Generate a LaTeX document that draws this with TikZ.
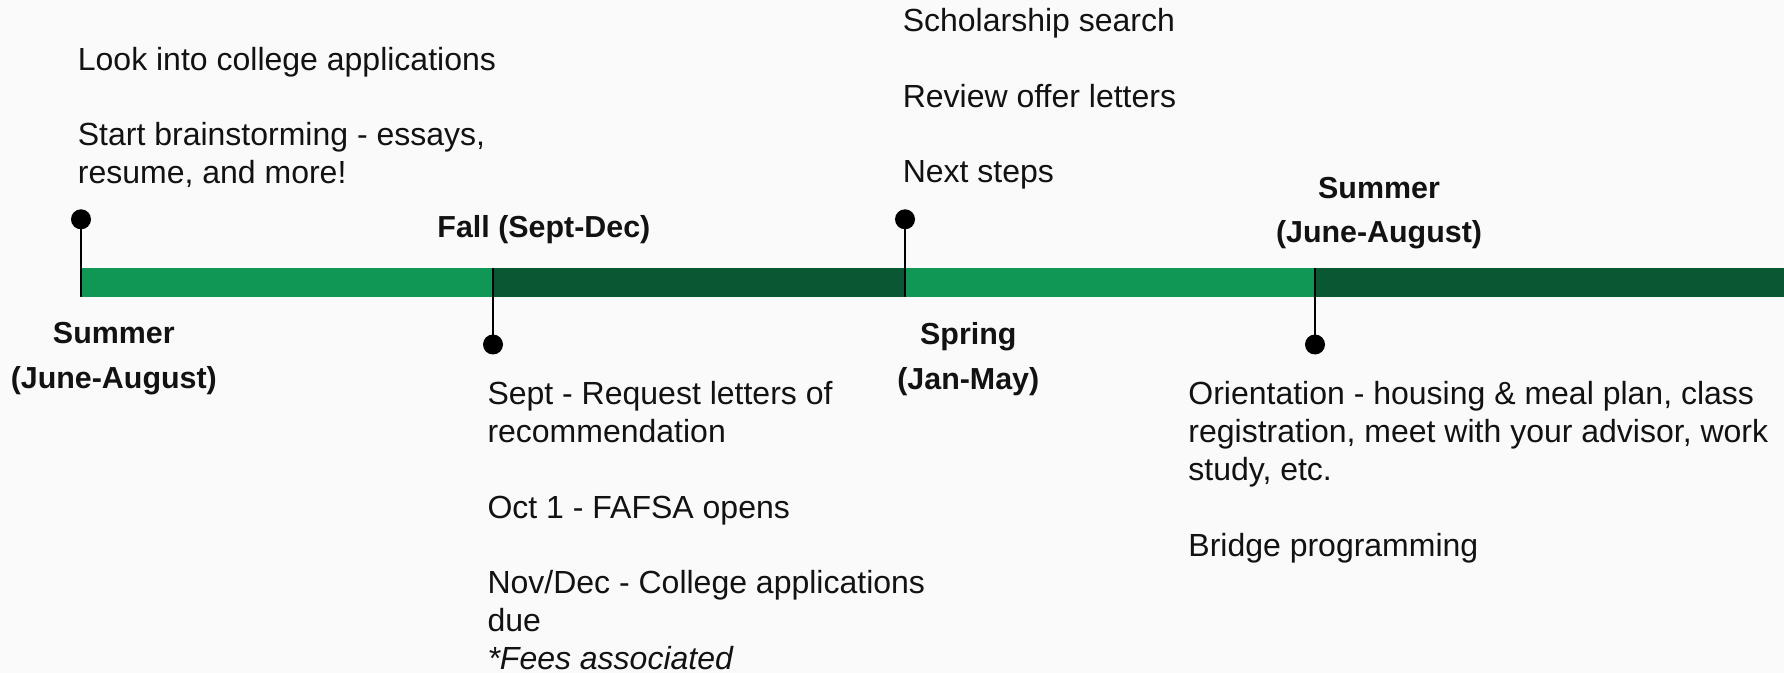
\documentclass[tikz,border=0pt]{standalone}
\usepackage{fontspec}
\setmainfont{Liberation Sans}
\definecolor{barlight}{RGB}{16,150,85}
\definecolor{bardark}{RGB}{10,87,52}
\definecolor{bgpaper}{RGB}{250,250,250}
\definecolor{inkblack}{RGB}{18,18,18}

\tikzset{every picture/.style={line width=0.75pt},
  season/.style={anchor=north,inner sep=0pt,align=center,text=inkblack,font=\fontsize{22.8}{33.3}\selectfont\bfseries},
  notes/.style={anchor=north west,inner sep=0pt,align=left,text=inkblack,font=\fontsize{24}{28.4}\selectfont},
  pindot/.style={circle,fill=black,inner sep=0pt,minimum size=15pt},
  stem/.style={line width=1.5pt}}

\begin{document}
\begin{tikzpicture}[x=0.75pt,y=0.75pt,yscale=-1,xscale=1]
%set diagram size to 1784 x 673
\useasboundingbox[fill=bgpaper] (0,0) rectangle (1784,673);

%Shape: Rectangle [id:bar1]
\fill[barlight] (80,268) rectangle (493,297);
%Shape: Rectangle [id:bar2]
\fill[bardark] (493,268) rectangle (905,297);
%Shape: Rectangle [id:bar3]
\fill[barlight] (905,268) rectangle (1315,297);
%Shape: Rectangle [id:bar4]
\fill[bardark] (1315,268) rectangle (1784,297);

% ends of the pins on the bar
\coordinate (b1) at (81,297);
\coordinate (b2) at (493,268);
\coordinate (b3) at (905,297);
\coordinate (b4) at (1315,268);

%Shape: Circle (pins)
\node[pindot] (d1) at (81,219.3) {};
\node[pindot] (d2) at (493,344.5) {};
\node[pindot] (d3) at (905,219.3) {};
\node[pindot] (d4) at (1315,344.5) {};
%Straight Lines
\draw[stem] (d1.center) -- (b1);
\draw[stem] (b2) -- (d2.center);
\draw[stem] (d3.center) -- (b3);
\draw[stem] (b4) -- (d4.center);

% Text Node
\node[notes] (junior) at (77.4,46.4) {Look into college applications\\[\baselineskip]Start brainstorming - essays,\\resume, and more!};
% Text Node
\node[notes] (spring) at (902.3,7.7) {Scholarship search\\[\baselineskip]Review offer letters\\[\baselineskip]Next steps};
% Text Node
\node[notes] (fall) at (487,380.9) {Sept - Request letters of\\recommendation\\[\baselineskip]Oct 1 - FAFSA opens\\[\baselineskip]Nov/Dec - College applications\\due\\\textit{*Fees associated}};
% Text Node
\node[notes] (senior) at (1187.9,380.9) {Orientation - housing \& meal plan, class\\registration, meet with your advisor, work\\study, etc.\\[\baselineskip]Bridge programming};

% Text Node
\node[season] (summerA) at (113.8,322.2) {Summer\\(June-August)};
% Text Node
\node[season] (fallterm) at (543.9,215.2) {Fall (Sept-Dec)};
% Text Node
\node[season] (springterm) at (968.3,322.2) {Spring\\(Jan-May)};
% Text Node
\node[season] (summerB) at (1379,176.5) {Summer\\(June-August)};

\end{tikzpicture}
\end{document}
